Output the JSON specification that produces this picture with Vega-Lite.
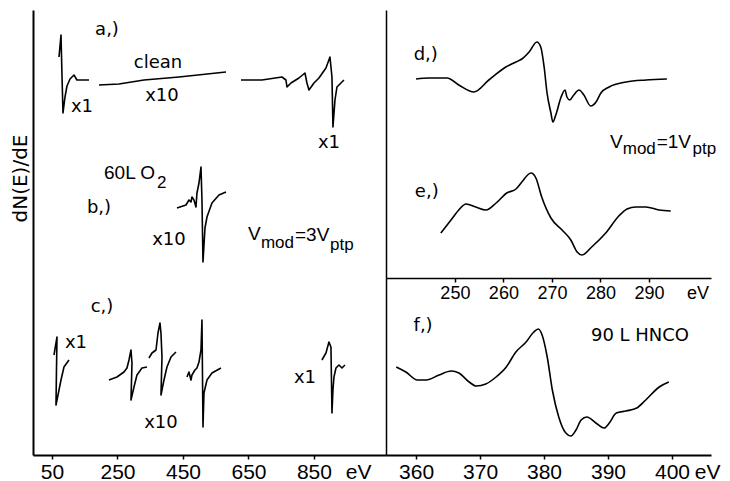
{
"$schema": "https://vega.github.io/schema/vega-lite/v6.json",
"background": "white",
"padding": {"left": 10, "top": 10, "right": 2, "bottom": 2},
"spacing": 0,
"bounds": "flush",
"config": {"view": {"stroke": null}, "axis": {"domainColor": "black", "tickColor": "black", "labelColor": "black", "titleColor": "black", "grid": false}},
"hconcat": [
{
"width": 353, "height": 445,
"encoding": {
 "x": {"field": "e", "type": "quantitative", "scale": {"domain": [-8, 1070], "nice": false, "zero": false},
  "axis": {"title": null, "values": [50, 250, 450, 650, 850, 985], "labelExpr": "datum.value == 985 ? 'eV' : datum.label", "tickOpacity": {"condition": {"test": "datum.value == 985", "value": 0}, "value": 1}, "tickSize": 4, "tickWidth": 1.5, "domainWidth": 2, "labelFont": "Liberation Sans", "labelFontSize": 21, "labelPadding": 2, "labelFlush": false}},
 "y": {"field": "s", "type": "quantitative", "scale": {"domain": [0, 445], "nice": false, "zero": false},
  "axis": {"title": "dN(E)/dE", "ticks": false, "labels": false, "domainWidth": 2, "titleFont": "DejaVu Sans", "titleFontSize": 20, "titleFontWeight": "normal", "titleY": 168, "titleAlign": "center", "titlePadding": 3}}
},
"layer": [
 {"data": {"values": [
  {"g":"a1","i":0,"e":71.4,"s":398},{"g":"a1","i":1,"e":77.5,"s":420},{"g":"a1","i":2,"e":80.5,"s":380},{"g":"a1","i":3,"e":83.6,"s":342},{"g":"a1","i":4,"e":89.7,"s":358},{"g":"a1","i":5,"e":95.8,"s":369},{"g":"a1","i":6,"e":105.0,"s":376},{"g":"a1","i":7,"e":117.2,"s":380},{"g":"a1","i":8,"e":126.3,"s":375},{"g":"a1","i":9,"e":141.6,"s":375},{"g":"a1","i":10,"e":163.0,"s":375},
  {"g":"a2","i":0,"e":193.5,"s":370},{"g":"a2","i":1,"e":254.6,"s":371},{"g":"a2","i":2,"e":330.9,"s":375},{"g":"a2","i":3,"e":437.8,"s":378},{"g":"a2","i":4,"e":581.3,"s":383},
  {"g":"a3","i":0,"e":627.1,"s":375},{"g":"a3","i":1,"e":691.2,"s":375},{"g":"a3","i":2,"e":752.3,"s":378},{"g":"a3","i":3,"e":764.5,"s":375},{"g":"a3","i":4,"e":767.6,"s":368},{"g":"a3","i":5,"e":779.8,"s":372},{"g":"a3","i":6,"e":804.2,"s":377},{"g":"a3","i":7,"e":822.5,"s":382},{"g":"a3","i":8,"e":828.6,"s":372},{"g":"a3","i":9,"e":834.7,"s":365},{"g":"a3","i":10,"e":850.0,"s":372},{"g":"a3","i":11,"e":865.3,"s":377},{"g":"a3","i":12,"e":886.6,"s":387},{"g":"a3","i":13,"e":898.9,"s":398},{"g":"a3","i":14,"e":905.0,"s":378},{"g":"a3","i":15,"e":908.0,"s":328},{"g":"a3","i":16,"e":914.2,"s":355},{"g":"a3","i":17,"e":920.2,"s":368},{"g":"a3","i":18,"e":941.6,"s":375},
  {"g":"b","i":0,"e":431.7,"s":247},{"g":"b","i":1,"e":459.2,"s":250},{"g":"b","i":2,"e":468.3,"s":255},{"g":"b","i":3,"e":474.4,"s":253},{"g":"b","i":4,"e":477.5,"s":258},{"g":"b","i":5,"e":483.6,"s":255},{"g":"b","i":6,"e":489.7,"s":248},{"g":"b","i":7,"e":492.7,"s":262},{"g":"b","i":8,"e":498.9,"s":272},{"g":"b","i":9,"e":505.0,"s":288},{"g":"b","i":10,"e":508.0,"s":255},{"g":"b","i":11,"e":511.1,"s":193},{"g":"b","i":12,"e":517.2,"s":227},{"g":"b","i":13,"e":523.3,"s":238},{"g":"b","i":14,"e":538.5,"s":252},{"g":"b","i":15,"e":559.9,"s":260},{"g":"b","i":16,"e":581.3,"s":263},
  {"g":"c1","i":0,"e":56.1,"s":100},{"g":"c1","i":1,"e":62.2,"s":112},{"g":"c1","i":2,"e":65.3,"s":118},{"g":"c1","i":3,"e":63.7,"s":85},{"g":"c1","i":4,"e":62.2,"s":50},{"g":"c1","i":5,"e":71.4,"s":65},{"g":"c1","i":6,"e":77.5,"s":75},{"g":"c1","i":7,"e":86.6,"s":88},{"g":"c1","i":8,"e":101.9,"s":95},
  {"g":"c2","i":0,"e":224.0,"s":75},{"g":"c2","i":1,"e":248.5,"s":78},{"g":"c2","i":2,"e":269.8,"s":83},{"g":"c2","i":3,"e":279.0,"s":87},{"g":"c2","i":4,"e":285.1,"s":95},{"g":"c2","i":5,"e":291.2,"s":105},{"g":"c2","i":6,"e":294.3,"s":92},{"g":"c2","i":7,"e":291.2,"s":55},{"g":"c2","i":8,"e":300.4,"s":68},{"g":"c2","i":9,"e":309.5,"s":80},{"g":"c2","i":10,"e":324.8,"s":87},{"g":"c2","i":11,"e":340.1,"s":88},
  {"g":"c3","i":0,"e":346.2,"s":97},{"g":"c3","i":1,"e":355.3,"s":102},{"g":"c3","i":2,"e":367.6,"s":105},{"g":"c3","i":3,"e":373.7,"s":122},{"g":"c3","i":4,"e":379.8,"s":132},{"g":"c3","i":5,"e":382.8,"s":122},{"g":"c3","i":6,"e":385.9,"s":98},{"g":"c3","i":7,"e":382.8,"s":60},{"g":"c3","i":8,"e":392.0,"s":75},{"g":"c3","i":9,"e":401.1,"s":88},{"g":"c3","i":10,"e":413.4,"s":98},{"g":"c3","i":11,"e":428.6,"s":103},
  {"g":"c4","i":0,"e":462.2,"s":78},{"g":"c4","i":1,"e":468.3,"s":83},{"g":"c4","i":2,"e":474.4,"s":75},{"g":"c4","i":3,"e":477.5,"s":80},{"g":"c4","i":4,"e":486.6,"s":85},{"g":"c4","i":5,"e":492.7,"s":87},{"g":"c4","i":6,"e":498.9,"s":93},{"g":"c4","i":7,"e":505.0,"s":105},{"g":"c4","i":8,"e":508.0,"s":135},{"g":"c4","i":9,"e":511.1,"s":28},{"g":"c4","i":10,"e":514.1,"s":62},{"g":"c4","i":11,"e":523.3,"s":75},{"g":"c4","i":12,"e":538.5,"s":82},{"g":"c4","i":13,"e":566.0,"s":87},
  {"g":"c5","i":0,"e":874.4,"s":95},{"g":"c5","i":1,"e":886.6,"s":102},{"g":"c5","i":2,"e":895.8,"s":113},{"g":"c5","i":3,"e":901.9,"s":108},{"g":"c5","i":4,"e":905.0,"s":42},{"g":"c5","i":5,"e":908.0,"s":65},{"g":"c5","i":6,"e":911.1,"s":78},{"g":"c5","i":7,"e":917.2,"s":87},{"g":"c5","i":8,"e":926.3,"s":90},{"g":"c5","i":9,"e":935.5,"s":87},{"g":"c5","i":10,"e":944.7,"s":90}
 ]},
 "mark": {"type": "line", "color": "black", "strokeWidth": 1.6, "strokeJoin": "round"},
 "encoding": {"detail": {"field": "g"}, "order": {"field": "i", "type": "quantitative"}}},
 {"data": {"values": [
  {"t":"a,)","e":218,"s":425},{"t":"clean","e":373.7,"s":392},{"t":"x10","e":385.9,"s":359},{"t":"x1","e":141.6,"s":348},{"t":"x1","e":895.8,"s":312},
  {"t":"b,)","e":193.5,"s":247},{"t":"x10","e":407.3,"s":215},
  {"t":"c,)","e":202.7,"s":148},{"t":"x1","e":123.3,"s":112},{"t":"x10","e":382.8,"s":32},{"t":"x1","e":822.5,"s":77}
 ]},
 "mark": {"type": "text", "font": "DejaVu Sans", "fontSize": 18, "align": "center", "baseline": "middle", "color": "black"},
 "encoding": {"text": {"field": "t"}}},
 {"data": {"values": [
  {"t":"60L O","e":208.8,"s":282},{"t":"V","e":648.5,"s":221},{"t":"=3V","e":792.0,"s":220}
 ]},
 "mark": {"type": "text", "font": "Liberation Sans", "fontSize": 19, "align": "left", "baseline": "middle", "color": "black"},
 "encoding": {"text": {"field": "t"}}},
 {"data": {"values": [
  {"t":"2","e":370.6,"s":272},{"t":"mod","e":688.1,"s":212},{"t":"ptp","e":898.9,"s":210}
 ]},
 "mark": {"type": "text", "font": "Liberation Sans", "fontSize": 17, "align": "left", "baseline": "middle", "color": "black"},
 "encoding": {"text": {"field": "t"}}}
]
},
{
"vconcat": [
{
"width": 325, "height": 268,
"encoding": {
 "x": {"field": "e", "type": "quantitative", "scale": {"domain": [235.8, 302.8], "nice": false, "zero": false},
  "axis": {"title": null, "values": [250, 260, 270, 280, 290, 300], "labelExpr": "datum.value == 300 ? 'eV' : datum.label", "tickOpacity": {"condition": {"test": "datum.value == 300", "value": 0}, "value": 1}, "tickSize": 4, "tickWidth": 1.5, "domainWidth": 1.5, "labelFont": "Liberation Sans", "labelFontSize": 18, "labelPadding": 2, "labelFlush": false}},
 "y": {"field": "s", "type": "quantitative", "scale": {"domain": [0, 268], "nice": false, "zero": false},
  "axis": {"title": null, "ticks": false, "labels": false, "domainWidth": 1.5}}
},
"layer": [
 {"data": {"values": [
  {"g":"d","e":242.0,"s":199},{"g":"d","e":244.6,"s":200},{"g":"d","e":248.4,"s":200},{"g":"d","e":250.8,"s":193},{"g":"d","e":253.9,"s":186},{"g":"d","e":257.0,"s":198},{"g":"d","e":260.5,"s":211},{"g":"d","e":262.6,"s":216},{"g":"d","e":263.8,"s":219},{"g":"d","e":265.3,"s":226},{"g":"d","e":266.9,"s":236},{"g":"d","e":267.7,"s":231},{"g":"d","e":268.4,"s":211},{"g":"d","e":269.0,"s":185},{"g":"d","e":269.8,"s":165},{"g":"d","e":270.2,"s":156},{"g":"d","e":270.8,"s":163},{"g":"d","e":271.9,"s":181},{"g":"d","e":272.7,"s":188},{"g":"d","e":273.1,"s":181},{"g":"d","e":273.7,"s":178},{"g":"d","e":274.5,"s":183},{"g":"d","e":275.6,"s":188},{"g":"d","e":276.6,"s":183},{"g":"d","e":278.0,"s":172},{"g":"d","e":279.1,"s":176},{"g":"d","e":280.1,"s":185},{"g":"d","e":281.8,"s":191},{"g":"d","e":285.3,"s":196},{"g":"d","e":289.4,"s":198},{"g":"d","e":293.7,"s":199},
  {"g":"e","e":247.1,"s":45},{"g":"e","e":249.2,"s":58},{"g":"e","e":250.8,"s":68},{"g":"e","e":252.3,"s":74},{"g":"e","e":254.3,"s":71},{"g":"e","e":256.4,"s":68},{"g":"e","e":258.5,"s":75},{"g":"e","e":260.7,"s":85},{"g":"e","e":262.6,"s":89},{"g":"e","e":263.8,"s":96},{"g":"e","e":265.7,"s":105},{"g":"e","e":266.7,"s":100},{"g":"e","e":267.9,"s":81},{"g":"e","e":269.8,"s":60},{"g":"e","e":272.1,"s":48},{"g":"e","e":273.9,"s":38},{"g":"e","e":275.2,"s":26},{"g":"e","e":276.2,"s":23},{"g":"e","e":278.2,"s":31},{"g":"e","e":281.1,"s":45},{"g":"e","e":283.8,"s":62},{"g":"e","e":285.5,"s":69},{"g":"e","e":287.3,"s":71},{"g":"e","e":289.4,"s":71},{"g":"e","e":292.1,"s":68},{"g":"e","e":294.5,"s":67}
 ]},
 "mark": {"type": "line", "color": "black", "strokeWidth": 1.6, "interpolate": "monotone"},
 "encoding": {"detail": {"field": "g"}}},
 {"data": {"values": [{"t":"d,)","e":244.0,"s":223},{"t":"e,)","e":244.2,"s":86}]},
 "mark": {"type": "text", "font": "DejaVu Sans", "fontSize": 18, "align": "center", "baseline": "middle", "color": "black"},
 "encoding": {"text": {"field": "t"}}},
 {"data": {"values": [{"t":"V","e":282.0,"s":136},{"t":"=1V","e":291.6,"s":136}]},
 "mark": {"type": "text", "font": "Liberation Sans", "fontSize": 19, "align": "left", "baseline": "middle", "color": "black"},
 "encoding": {"text": {"field": "t"}}},
 {"data": {"values": [{"t":"mod","e":284.6,"s":129},{"t":"ptp","e":299.0,"s":129}]},
 "mark": {"type": "text", "font": "Liberation Sans", "fontSize": 17, "align": "left", "baseline": "middle", "color": "black"},
 "encoding": {"text": {"field": "t"}}}
]
},
{
"width": 325, "height": 177,
"encoding": {
 "x": {"field": "e", "type": "quantitative", "scale": {"domain": [355.3, 406.1], "nice": false, "zero": false},
  "axis": {"title": null, "values": [360, 370, 380, 390, 400, 405.5], "labelExpr": "datum.value == 405.5 ? 'eV' : datum.label", "tickOpacity": {"condition": {"test": "datum.value == 405.5", "value": 0}, "value": 1}, "tickSize": 4, "tickWidth": 1.5, "domainWidth": 2, "labelFont": "Liberation Sans", "labelFontSize": 21, "labelPadding": 2, "labelFlush": false}},
 "y": {"field": "s", "type": "quantitative", "scale": {"domain": [0, 177], "nice": false, "zero": false},
  "axis": {"title": null, "ticks": false, "labels": false, "domainWidth": 1.5}}
},
"layer": [
 {"data": {"values": [
  {"e":356.9,"s":88},{"e":358.4,"s":83},{"e":360.2,"s":75},{"e":361.6,"s":75},{"e":363.6,"s":80},{"e":365.5,"s":84},{"e":366.7,"s":82},{"e":368.3,"s":73},{"e":369.4,"s":69},{"e":370.9,"s":71},{"e":372.5,"s":78},{"e":374.1,"s":88},{"e":375.6,"s":103},{"e":377.2,"s":113},{"e":378.4,"s":123},{"e":379.1,"s":126},{"e":379.7,"s":120},{"e":380.5,"s":98},{"e":381.3,"s":65},{"e":382.3,"s":38},{"e":383.4,"s":22},{"e":384.2,"s":19},{"e":385.0,"s":25},{"e":385.8,"s":35},{"e":386.7,"s":38},{"e":388.1,"s":32},{"e":389.4,"s":27},{"e":390.2,"s":32},{"e":391.3,"s":42},{"e":392.8,"s":44},{"e":394.5,"s":47},{"e":395.9,"s":55},{"e":398.0,"s":68},{"e":399.5,"s":73}
 ]},
 "mark": {"type": "line", "color": "black", "strokeWidth": 1.6, "interpolate": "monotone"},
 "encoding": {}},
 {"data": {"values": [{"t":"f,)","e":361.1,"s":129},{"t":"90 L HNCO","e":395.0,"s":119}]},
 "mark": {"type": "text", "font": "DejaVu Sans", "fontSize": 18, "align": "center", "baseline": "middle", "color": "black"},
 "encoding": {"text": {"field": "t"}}}
]
}
],
"spacing": 0,
"bounds": "flush"
}
]
}
